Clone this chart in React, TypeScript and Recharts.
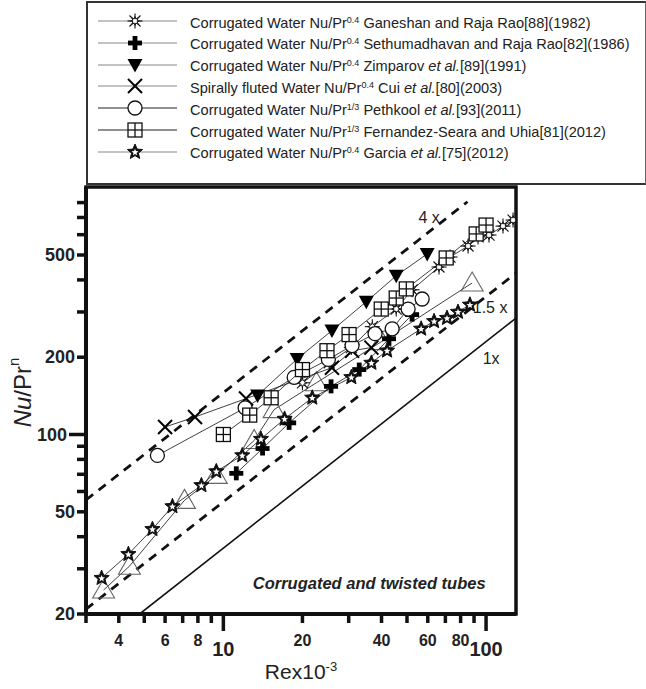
import React from 'react';
import {
  ComposedChart,
  Scatter,
  XAxis,
  YAxis,
  ReferenceLine,
  ReferenceArea,
  ReferenceDot,
  Legend,
} from 'recharts';

// Re x 10^-3 and Nu/Pr^n
const ganeshanRe = [20, 25.3, 30.7, 36.9, 45.5, 52.3, 66.2, 72.9, 85.4, 93.2, 102.6, 116, 126.7];
const ganeshanNu = [159, 190, 218, 263, 308, 366, 449, 491, 542, 588, 598, 648, 684];
const sethuRe = [11.2, 14.1, 17.8, 25.7, 32.9, 42.7, 52.3];
const sethuNu = [70.6, 88.2, 111, 154, 179, 236, 293];
const zimparovRe = [13.5, 19.1, 25.9, 35.0, 45.5, 59.7];
const zimparovNu = [142, 197, 254, 329, 415, 505];
const cuiRe = [6.0, 7.8, 12.2, 25.9, 30.9, 36.6];
const cuiNu = [107, 117, 138, 182, 212, 218];
const pethkoolRe = [5.61, 12.1, 18.6, 25.1, 30.9, 37.8, 43.9, 50.5, 57.1];
const pethkoolNu = [82.9, 127, 167, 196, 222, 247, 258, 308, 337];
const fernandezRe = [10, 12.6, 15.2, 20.0, 24.8, 30.1, 39.9, 45.5, 49.7, 70.5, 91.7, 100];
const fernandezNu = [100, 119, 139, 179, 212, 245, 308, 340, 369, 487, 604, 654];
const garciaRe = [3.44, 4.35, 5.37, 6.4, 8.25, 9.4, 11.8, 13.9, 17.1, 21.8, 30.7, 36.6, 42.0, 56.6, 63.4, 71.0, 78.2, 86.8];
const garciaNu = [27.6, 34.2, 42.8, 52.5, 63.4, 71.8, 82.9, 96, 115, 139, 167, 190, 212, 258, 276, 284, 300, 320];
// open triangles (twisted tube data, not in the legend)
const twistedRe = [3.5, 4.39, 7.11, 9.4, 13.1, 15.6, 22.6, 40, 88.5];
const twistedNu = [24.8, 30.7, 55.4, 69.3, 94.8, 125, 159, 230, 389];

// Dittus-Boelter reference lines (end points)
const fourX = [{ x: 3, y: 55.6 }, { x: 85, y: 806 }];
const oneHalfX = [{ x: 3, y: 20.9 }, { x: 130, y: 425 }];
const oneX = [{ x: 4.8, y: 20 }, { x: 130, y: 284 }];

const xTicks = [3, 4, 5, 6, 7, 8, 9, 10, 20, 30, 40, 50, 60, 70, 80, 90, 100];
const xLabelled = [4, 6, 8, 10, 20, 40, 60, 80, 100];
const xMajor = [10, 100];
const yTicks = [20, 30, 40, 50, 60, 70, 80, 90, 100, 200, 300, 400, 500, 600, 700, 800];
const yLabelled = [20, 50, 100, 200, 500];

const notes = [
  { x: 60.7, y: 700, text: '4 x', angle: -38 },
  { x: 103.6, y: 313, text: '1.5 x', angle: -38 },
  { x: 104.5, y: 198, text: '1x', angle: -38 },
];

const FONT = '"Liberation Sans", Arial, Helvetica, sans-serif';

type Mark = 'spark' | 'plus' | 'down' | 'cross' | 'circle' | 'box' | 'star' | 'tri';

const zip = (xs: number[], ys: number[]) => xs.map((x, i) => ({ x, y: ys[i] }));

const series = [
  { key: 'ganeshan', mark: 'spark' as Mark, data: zip(ganeshanRe, ganeshanNu), legendLine: '#888',
    pre: 'Corrugated Water Nu/Pr', exp: '0.4', who: ' Ganeshan and Raja Rao', etal: false, ref: '[88](1982)' },
  { key: 'sethu', mark: 'plus' as Mark, data: zip(sethuRe, sethuNu), legendLine: '#888',
    pre: 'Corrugated Water Nu/Pr', exp: '0.4', who: ' Sethumadhavan and Raja Rao', etal: false, ref: '[82](1986)' },
  { key: 'zimparov', mark: 'down' as Mark, data: zip(zimparovRe, zimparovNu), legendLine: '#888',
    pre: 'Corrugated Water Nu/Pr', exp: '0.4', who: ' Zimparov ', etal: true, ref: '[89](1991)' },
  { key: 'cui', mark: 'cross' as Mark, data: zip(cuiRe, cuiNu), legendLine: '#888',
    pre: 'Spirally fluted Water Nu/Pr', exp: '0.4', who: ' Cui ', etal: true, ref: '[80](2003)' },
  { key: 'pethkool', mark: 'circle' as Mark, data: zip(pethkoolRe, pethkoolNu), legendLine: '#222',
    pre: 'Corrugated Water Nu/Pr', exp: '1/3', who: ' Pethkool ', etal: true, ref: '[93](2011)' },
  { key: 'fernandez', mark: 'box' as Mark, data: zip(fernandezRe, fernandezNu), legendLine: '#222',
    pre: 'Corrugated Water Nu/Pr', exp: '1/3', who: ' Fernandez-Seara and Uhia', etal: false, ref: '[81](2012)' },
  { key: 'garcia', mark: 'star' as Mark, data: zip(garciaRe, garciaNu), legendLine: '#888',
    pre: 'Corrugated Water Nu/Pr', exp: '0.4', who: ' Garcia ', etal: true, ref: '[75](2012)' },
];

const twisted = zip(twistedRe, twistedNu);

function starPath(cx: number, cy: number, ro: number, ri: number, n: number) {
  const pts: string[] = [];
  for (let i = 0; i < n * 2; i++) {
    const r = i % 2 === 0 ? ro : ri;
    const a = -Math.PI / 2 + (i * Math.PI) / n;
    pts.push(`${(cx + r * Math.cos(a)).toFixed(2)},${(cy + r * Math.sin(a)).toFixed(2)}`);
  }
  return `M${pts.join('L')}Z`;
}

function Marker({ kind, cx, cy }: { kind: Mark; cx: number; cy: number }) {
  if (cx == null || cy == null) return <g />;
  switch (kind) {
    case 'spark':
      return (
        <g stroke="#111" strokeWidth={1.1} fill="#fff">
          <line x1={cx} y1={cy - 7.5} x2={cx} y2={cy + 7.5} />
          <line x1={cx - 7.5} y1={cy} x2={cx + 7.5} y2={cy} />
          <line x1={cx - 5.5} y1={cy - 5.5} x2={cx + 5.5} y2={cy + 5.5} />
          <line x1={cx - 5.5} y1={cy + 5.5} x2={cx + 5.5} y2={cy - 5.5} />
          <path d={starPath(cx, cy, 4.5, 2.2, 8)} strokeWidth={1} />
        </g>
      );
    case 'plus':
      return (
        <g fill="#000">
          <rect x={cx - 7} y={cy - 2.4} width={14} height={4.8} />
          <rect x={cx - 2.4} y={cy - 7} width={4.8} height={14} />
        </g>
      );
    case 'down':
      return <path d={`M${cx - 7.5},${cy - 6}L${cx + 7.5},${cy - 6}L${cx},${cy + 7.5}Z`} fill="#000" />;
    case 'cross':
      return (
        <g stroke="#000" strokeWidth={2}>
          <line x1={cx - 7} y1={cy - 7} x2={cx + 7} y2={cy + 7} />
          <line x1={cx - 7} y1={cy + 7} x2={cx + 7} y2={cy - 7} />
        </g>
      );
    case 'circle':
      return <circle cx={cx} cy={cy} r={7} fill="#fff" stroke="#111" strokeWidth={1.3} />;
    case 'box':
      return (
        <g stroke="#111" strokeWidth={1.3} fill="#fff">
          <rect x={cx - 7} y={cy - 7} width={14} height={14} />
          <line x1={cx} y1={cy - 7} x2={cx} y2={cy + 7} />
          <line x1={cx - 7} y1={cy} x2={cx + 7} y2={cy} />
        </g>
      );
    case 'star':
      return (
        <g>
          <path d={starPath(cx, cy, 8, 3.6, 5)} fill="#111" stroke="#111" strokeWidth={1} strokeLinejoin="miter" />
          <path d={starPath(cx, cy + 0.4, 3.6, 1.6, 5)} fill="#fff" />
        </g>
      );
    case 'tri':
      return <path d={`M${cx},${cy - 11}L${cx + 11},${cy + 8}L${cx - 11},${cy + 8}Z`} fill="none" stroke="#666" strokeWidth={1.1} />;
  }
  return <g />;
}

function LegendBox() {
  return (
    <div
      style={{
        position: 'relative',
        width: 560,
        height: 184,
        boxSizing: 'border-box',
        borderTop: '2px solid #333',
        borderLeft: '2px solid #333',
        borderBottom: '2px solid #333',
        borderRight: '1px solid #666',
        background: '#fff',
        fontFamily: FONT,
        fontSize: 14.6,
        color: '#222',
      }}
    >
      {series.map((s, i) => (
        <div
          key={s.key}
          style={{ position: 'absolute', left: 0, top: 10 + i * 21.8, height: 16, display: 'flex', alignItems: 'center' }}
        >
          <svg width={102} height={16} style={{ flex: 'none' }}>
            <line x1={10} x2={89} y1={8} y2={8} stroke={s.legendLine} strokeWidth={1.2} />
            <Marker kind={s.mark} cx={47} cy={8} />
          </svg>
          <span style={{ whiteSpace: 'nowrap', lineHeight: '16px' }}>
            {s.pre}
            <span style={{ fontSize: 9, verticalAlign: 5 }}>{s.exp}</span>
            {s.who}
            {s.etal && <i>et al.</i>}
            {s.ref}
          </span>
        </div>
      ))}
    </div>
  );
}

function XTick(props: any) {
  const { x, y, payload } = props;
  const v = payload.value;
  const major = xMajor.includes(v);
  return (
    <g>
      <line x1={x} x2={x} y1={y} y2={y + (major ? 17 : 9)} stroke="#111" strokeWidth={3.5} />
      {xLabelled.includes(v) && (
        <text
          x={x}
          y={y + (major ? 42 : 32)}
          textAnchor="middle"
          fontFamily={FONT}
          fontWeight="bold"
          fontSize={major ? 20 : 16}
          fill="#222"
        >
          {v}
        </text>
      )}
    </g>
  );
}

function YTick(props: any) {
  const { x, y, payload } = props;
  const v = payload.value;
  const major = v === 100;
  return (
    <g>
      <line x1={x - (major ? 17 : 9)} x2={x} y1={y} y2={y} stroke="#111" strokeWidth={3.5} />
      {yLabelled.includes(v) && (
        <text
          x={x - (major ? 19 : 11)}
          y={y + 6}
          textAnchor="end"
          fontFamily={FONT}
          fontWeight="bold"
          fontSize={18}
          fill="#222"
        >
          {v}
        </text>
      )}
    </g>
  );
}

function XTitle(props: any) {
  const vb = props.viewBox || {};
  return (
    <text x={vb.x + vb.width / 2} y={vb.y + 65} textAnchor="middle" fontFamily={FONT} fontSize={21} fill="#222">
      Rex10
      <tspan dy={-8} fontSize={13}>-3</tspan>
    </text>
  );
}

function YTitle(props: any) {
  const vb = props.viewBox || {};
  const cx = vb.x + 6;
  const cy = vb.y + vb.height / 2 - 8;
  return (
    <text
      x={cx}
      y={cy}
      transform={`rotate(-90 ${cx} ${cy})`}
      textAnchor="middle"
      dominantBaseline="central"
      fontFamily={FONT}
      fontSize={24}
      fill="#222"
    >
      <tspan fontStyle="italic">Nu</tspan>
      <tspan>/Pr</tspan>
      <tspan dy={-9} fontSize={15}>n</tspan>
    </text>
  );
}

function Note(props: any) {
  const vb = props.viewBox || {};
  const { text, angle, size, weight, italic } = props;
  return (
    <text
      x={vb.x}
      y={vb.y}
      transform={`rotate(${angle} ${vb.x} ${vb.y})`}
      textAnchor="middle"
      dominantBaseline="central"
      fontFamily={FONT}
      fontSize={size}
      fontWeight={weight}
      fontStyle={italic ? 'italic' : 'normal'}
      fill="#222"
    >
      {text}
    </text>
  );
}

export default function App() {
  return (
    <div style={{ position: 'absolute', left: 0, top: 0, width: 646, height: 689, background: '#fff' }}>
      <ComposedChart width={646} height={689} margin={{ top: 187, right: 130, bottom: 15, left: 16 }}>
        <XAxis
          dataKey="x"
          type="number"
          scale="log"
          domain={[3, 130]}
          ticks={xTicks}
          interval={0}
          allowDataOverflow
          height={60}
          tickSize={0}
          tickMargin={0}
          tickLine={false}
          axisLine={{ stroke: '#111', strokeWidth: 4 }}
          tick={<XTick />}
          label={<XTitle />}
        />
        <YAxis
          dataKey="y"
          type="number"
          scale="log"
          domain={[20, 920]}
          ticks={yTicks}
          interval={0}
          allowDataOverflow
          width={70}
          tickSize={0}
          tickMargin={0}
          tickLine={false}
          axisLine={{ stroke: '#111', strokeWidth: 4 }}
          tick={<YTick />}
          label={<YTitle />}
        />
        <Legend
          layout="horizontal"
          verticalAlign="middle"
          align="center"
          wrapperStyle={{ left: 86, top: 1, width: 560, height: 184 }}
          content={() => <LegendBox />}
        />
        <ReferenceLine segment={fourX} stroke="#111" strokeWidth={2.8} strokeDasharray="9 7" ifOverflow="hidden" />
        <ReferenceLine segment={oneHalfX} stroke="#111" strokeWidth={2.8} strokeDasharray="9 7" ifOverflow="hidden" />
        <ReferenceLine segment={oneX} stroke="#111" strokeWidth={1.6} ifOverflow="hidden" />
        {notes.map((n) => (
          <ReferenceDot
            key={n.text}
            x={n.x}
            y={n.y}
            r={0}
            fill="none"
            stroke="none"
            label={<Note text={n.text} angle={n.angle} size={16} weight="normal" />}
          />
        ))}
        <ReferenceDot
          x={35.9}
          y={26.5}
          r={0}
          fill="none"
          stroke="none"
          label={<Note text="Corrugated and twisted tubes" angle={0} size={16.5} weight="bold" italic />}
        />
        <Scatter
          data={twisted}
          line={{ stroke: '#111', strokeWidth: 0.8 }}
          lineType="joint"
          legendType="none"
          isAnimationActive={false}
          shape={(p: any) => <Marker kind="tri" cx={p.cx} cy={p.cy} />}
        />
        {series.map((s) => (
          <Scatter
            key={s.key}
            name={s.key}
            data={s.data}
            line={{ stroke: '#111', strokeWidth: 0.8 }}
            lineType="joint"
            isAnimationActive={false}
            shape={(p: any) => <Marker kind={s.mark} cx={p.cx} cy={p.cy} />}
          />
        ))}
        <ReferenceArea x1={3} x2={130} y1={20} y2={920} fill="none" stroke="#111" strokeWidth={3.5} />
      </ComposedChart>
    </div>
  );
}
